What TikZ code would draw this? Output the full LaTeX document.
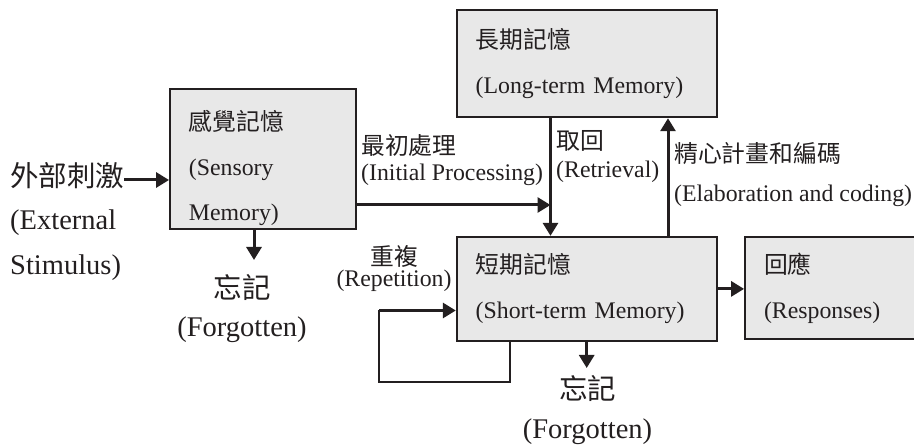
\documentclass[tikz,border=0pt]{standalone}
\usepackage{fontspec}
\setmainfont{Liberation Serif}
\newfontfamily\cjk{Noto Sans CJK TC}
\usetikzlibrary{arrows.meta}
\definecolor{ink}{HTML}{231F20}
\definecolor{boxgray}{HTML}{E8E8E8}
\tikzset{
	membox/.style={draw=ink,fill=boxgray,line width=1.8pt,align=left,inner xsep=19pt,inner ysep=0pt,text=ink,font=\fontsize{23.8}{45}\selectfont},
	flow/.style={->,draw=ink,line width=3pt},
	txt/.style={inner sep=0pt,text=ink,font=\fontsize{23.8}{26}\selectfont},
	bigtxt/.style={inner sep=0pt,text=ink,font=\fontsize{28.5}{45}\selectfont},
}
\begin{document}
\begin{tikzpicture}[x=1pt,y=-1pt,>={Triangle[length=13pt,width=15pt]}]
	\useasboundingbox (0,0) rectangle (914,446);
	\path
	(262.8,159)		node[membox,text width=147.7pt,minimum height=140pt]	(sens)	{\rule{0pt}{38pt}{\cjk 感覺記憶}\\(Sensory\\Memory)}
	(586.7,63.7)	node[membox,text width=222pt,minimum height=107.3pt]	(ltm)	{{\cjk 長期記憶}\\(Long-term Memory)}
	(586.7,288.9)	node[membox,text width=222pt,minimum height=104.3pt]	(stm)	{{\cjk 短期記憶}\\(Short-term Memory)}
	(831,288)		node[membox,text width=134pt,minimum height=102.6pt]	(resp)	{{\cjk 回應}\\(Responses)};
	
	\path
	(10,176)		node[bigtxt,anchor=west]			(ext)	{\cjk 外部刺激}
	(10,245)		node[bigtxt,anchor=west,align=left]	(extEn)	{(External\\Stimulus)}
	(242,287)		node[bigtxt]	(fg1)	{\cjk 忘記}
	(242,330)		node[bigtxt]	(fg1En)	{(Forgotten)}
	(587.5,388)		node[bigtxt]	(fg2)	{\cjk 忘記}
	(587.5,432)		node[bigtxt]	(fg2En)	{(Forgotten)}
	(361,146)		node[txt,anchor=west]	(init)		{\cjk 最初處理}
	(361,175)		node[txt,anchor=west]	(initEn)	{(Initial Processing)}
	(556,141)		node[txt,anchor=west]	(ret)		{\cjk 取回}
	(556,172)		node[txt,anchor=west]	(retEn)		{(Retrieval)}
	(674,154)		node[txt,anchor=west]	(elab)		{\cjk 精心計畫和編碼}
	(674,196)		node[txt,anchor=west]	(elabEn)	{(Elaboration and coding)}
	(394.5,256)		node[txt]	(rep)	{\cjk 重複}
	(394,281)		node[txt]	(repEn)	{(Repetition)};
	
	\coordinate (j) at (550.5,205);
	\coordinate (e) at (668,200);
	\coordinate (d1) at (254,260);
	\coordinate (d2) at (586.7,368);
	\coordinate (lpR) at (509.5,382.5);
	\coordinate (lpL) at (379.3,310.5);
	
	\draw[flow] ([yshift=-4pt]ext.east) -- ([yshift=-4pt]ext.east -| sens.west);
	\draw[flow] (sens.east |- j) -- (j);
	\draw[flow] (ltm.south -| j) -- (stm.north -| j);
	\draw[flow] (stm.north -| e) -- (ltm.south -| e);
	\draw[flow] (stm.east) -- (resp.west |- stm.east);
	\draw[flow] (sens.south -| d1) -- (d1);
	\draw[flow] (stm.south -| d2) -- (d2);
	%\draw[flow] (stm.south) -- (fg2.north);
	
	\draw[draw=ink,line width=2pt] (stm.south -| lpR) -- (lpR) -| (lpL);
	\draw[flow] (lpL) -- (lpL -| stm.west);
\end{tikzpicture}
\end{document}
